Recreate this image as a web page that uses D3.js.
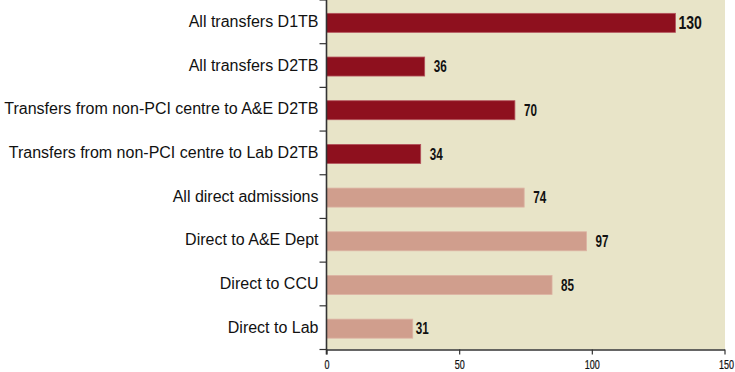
<!DOCTYPE html>
<html><head><meta charset="utf-8">
<script src="https://cdn.jsdelivr.net/npm/d3@7"></script>
<style>
body{margin:0;background:#fff;}
svg{display:block;}
</style></head>
<body><svg id="c" width="735" height="372"></svg>
<script>
const categories = [
  "All transfers D1TB",
  "All transfers D2TB",
  "Transfers from non-PCI centre to A&E D2TB",
  "Transfers from non-PCI centre to Lab D2TB",
  "All direct admissions",
  "Direct to A&E Dept",
  "Direct to CCU",
  "Direct to Lab"
];
// bar lengths as measured in the picture
const values = [131.5, 37, 71, 35.5, 74.5, 98, 85, 32.5];
// value labels as printed
const valueLabels = ["130", "36", "70", "34", "74", "97", "85", "31"];
const groups = ["transfer","transfer","transfer","transfer","direct","direct","direct","direct"];
const xTicks = [0, 50, 100, 150];

(function(){
const colors = {transfer: "#8e101e", direct: "#d09e8d"};
const strokes = {transfer: "#b4525c", direct: "#dcb3a3"};

const svg = d3.select("#c");
const pL = 326.5, pR = 724.5, pT = 0, pB = 349.5;

const x = d3.scaleLinear().domain([0, 150]).range([pL, pR]);
const y = d3.scaleBand().domain(categories).range([pT, pB]);

svg.append("rect")
  .attr("x", x(0)).attr("y", pT)
  .attr("width", x(150) - x(0) + 0.5).attr("height", pB - pT)
  .attr("fill", "#e8e4c8");

const barH = 19;
const data = categories.map((c, i) => ({c, v: values[i], lab: valueLabels[i], g: groups[i], i}));

svg.selectAll("rect.bar").data(data).enter().append("rect")
  .attr("class", "bar")
  .attr("x", x(0))
  .attr("y", d => y(d.c) + (y.bandwidth() - barH) / 2 + 1)
  .attr("width", d => x(d.v) - x(0))
  .attr("height", barH)
  .attr("fill", d => colors[d.g])
  .attr("stroke", d => strokes[d.g])
  .attr("stroke-width", 0.8);

const narrow = "'Liberation Sans', Arial, sans-serif";
svg.selectAll("text.val").data(data).enter().append("text")
  .attr("class", "val")
  .attr("transform", d => {
    const tx = x(d.v) + (d.i === 0 || d.i === 7 ? 3 : 9);
    const ty = y(d.c) + y.bandwidth() / 2 + 1;
    const s = d.i === 0 ? 0.78 : 0.73;
    return `translate(${tx},${ty}) scale(${s},1)`;
  })
  .attr("dy", "0.36em")
  .attr("font-family", narrow)
  .attr("font-weight", "bold")
  .attr("font-size", d => d.i === 0 ? 18 : 16)
  .attr("fill", "#111")
  .text(d => d.lab);

const yAxis = d3.axisLeft(y).tickSize(0).tickPadding(8);
const gy = svg.append("g").attr("transform", `translate(${pL},0)`).call(yAxis);
gy.select(".domain").remove();
gy.selectAll("text")
  .attr("font-family", "'Liberation Sans', Arial, sans-serif")
  .attr("font-size", 16)
  .attr("fill", "#111");
const bounds = categories.map(c => y(c)).concat([y(categories[categories.length-1]) + y.bandwidth()]);
svg.selectAll("line.yt").data(bounds).enter().append("line")
  .attr("x1", pL - 7).attr("x2", pL)
  .attr("y1", d => d).attr("y2", d => d)
  .attr("stroke", "#333").attr("stroke-width", 1.2);
svg.append("line")
  .attr("x1", pL).attr("x2", pL).attr("y1", pT).attr("y2", pB + 5)
  .attr("stroke", "#333").attr("stroke-width", 1.6);

const xAxis = d3.axisBottom(x).tickValues(xTicks).tickSize(5).tickSizeOuter(0).tickPadding(6);
const gx = svg.append("g").attr("transform", `translate(0,${pB})`).call(xAxis);
gx.select(".domain").attr("stroke", "#333").attr("stroke-width", 1.6);
gx.selectAll(".tick line").attr("stroke", "#333").attr("stroke-width", 1.2);
gx.selectAll("text")
  .attr("transform", "scale(0.72,1)")
  .attr("font-family", narrow)
  .attr("font-size", 12.5)
  .attr("stroke", "#111").attr("stroke-width", 0.25)
  .attr("fill", "#111");
gx.selectAll(".tick").filter(d => d === 150).select("text").attr("x", 2);
})();
</script></body></html>
